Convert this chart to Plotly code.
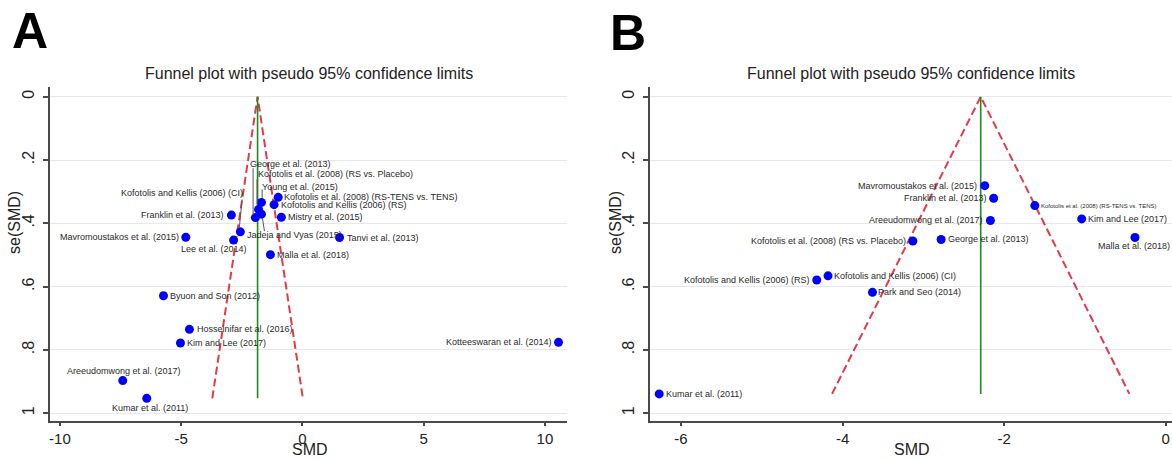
import plotly.graph_objects as go

# ---------------- data ----------------
A_names = [
    "Franklin et al. (2013)", "Mavromoustakos et al. (2015)",
    "Kofotolis and Kellis (2006) (CI)", "Lee et al. (2014)",
    "George et al. (2013)", "Kofotolis et al. (2008) (RS vs. Placebo)",
    "Jadeja and Vyas (2015)", "Young et al. (2015)",
    "Kofotolis et al. (2008) (RS-TENS vs. TENS)", "Kofotolis and Kellis (2006) (RS)",
    "Mistry et al. (2015)", "Tanvi et al. (2013)", "Malla et al. (2018)",
    "Byuon and Son (2012)", "Hosseinifar et al. (2016)", "Kim and Lee (2017)",
    "Areeudomwong et al. (2017)", "Kumar et al. (2011)", "Kotteeswaran et al. (2014)",
]
A_smd = [-2.93, -4.81, -2.56, -2.84, -1.94, -1.81, -1.69, -1.69, -1.00, -1.17,
         -0.87, 1.53, -1.32, -5.73, -4.66, -5.03, -7.41, -6.42, 10.56]
A_se = [0.374, 0.444, 0.427, 0.453, 0.382, 0.356, 0.371, 0.334, 0.318, 0.341,
        0.381, 0.445, 0.499, 0.629, 0.735, 0.778, 0.897, 0.953, 0.776]
A_pooled = -1.85

B_names = [
    "Mavromoustakos et al. (2015)", "Franklin et al. (2013)",
    "Kofotolis et al. (2008) (RS-TENS vs. TENS)", "Areeudomwong et al. (2017)",
    "Kim and Lee (2017)", "Kofotolis et al. (2008) (RS vs. Placebo)",
    "George et al. (2013)", "Malla et al. (2018)",
    "Kofotolis and Kellis (2006) (RS)", "Kofotolis and Kellis (2006) (CI)",
    "Park and Seo (2014)", "Kumar et al. (2011)",
]
B_smd = [-2.24, -2.13, -1.62, -2.17, -1.04, -3.13, -2.78, -0.38, -4.32, -4.18, -3.63, -6.27]
B_se = [0.281, 0.321, 0.344, 0.391, 0.386, 0.456, 0.451, 0.445, 0.579, 0.566, 0.618, 0.939]
B_pooled = -2.29

Y_TICKS = [0, 0.2, 0.4, 0.6, 0.8, 1]
Y_TICKTEXT = ["0", ".2", ".4", ".6", ".8", "1"]
A_XTICKS = [-10, -5, 0, 5, 10]
B_XTICKS = [-6, -4, -2, 0]
TITLE = "Funnel plot with pseudo 95% confidence limits"
X_TITLE = "SMD"
Y_TITLE = "se(SMD)"
Z95 = 1.96

# ---------------- label layout (anchor, dx px, dy px up) ----------------
A_place = {
    "Franklin et al. (2013)": ("right", -5, 0),
    "Mavromoustakos et al. (2015)": ("right", -5, 0),
    "Kofotolis and Kellis (2006) (CI)": ("right", 5, 38.5),
    "Lee et al. (2014)": ("right", 15, -9),
    "George et al. (2013)": ("left", -7, 54),
    "Kofotolis et al. (2008) (RS vs. Placebo)": ("left", -3, 35),
    "Jadeja and Vyas (2015)": ("left", -16, -21),
    "Young et al. (2015)": ("left", -1, 15.6),
    "Kofotolis et al. (2008) (RS-TENS vs. TENS)": ("left", 4, 0),
    "Kofotolis and Kellis (2006) (RS)": ("left", 5, 0),
    "Mistry et al. (2015)": ("left", 5, 0),
    "Tanvi et al. (2013)": ("left", 5, 0),
    "Malla et al. (2018)": ("left", 5, 0),
    "Byuon and Son (2012)": ("left", 5, 0),
    "Hosseinifar et al. (2016)": ("left", 6, 0),
    "Kim and Lee (2017)": ("left", 5, 0),
    "Areeudomwong et al. (2017)": ("center", 1, 10),
    "Kumar et al. (2011)": ("center", 3, -9.5),
    "Kotteeswaran et al. (2014)": ("right", -5, 0),
}
# leader lines: (x0, y0, x1, y1) screen px offsets (y down) from the point
A_leaders = {
    "Kofotolis and Kellis (2006) (CI)": (1.7, -32.4, -1, -4.4),
    "George et al. (2013)": (-2.3, -49.4, -2.3, -2.7),
    "Kofotolis et al. (2008) (RS vs. Placebo)": (-1.5, -30, -1.5, -5),
    "Young et al. (2015)": (0.7, -13, 0.7, -4),
    "Jadeja and Vyas (2015)": (1, 4, 3, 17),
}
B_place = {
    "Mavromoustakos et al. (2015)": ("right", -6, 0),
    "Franklin et al. (2013)": ("right", -5, 0),
    "Kofotolis et al. (2008) (RS-TENS vs. TENS)": ("left", 4, 0),
    "Areeudomwong et al. (2017)": ("right", -5, 0),
    "Kim and Lee (2017)": ("left", 4, 0),
    "Kofotolis et al. (2008) (RS vs. Placebo)": ("right", -5, 0),
    "George et al. (2013)": ("left", 5, 0),
    "Malla et al. (2018)": ("center", -1, -8),
    "Kofotolis and Kellis (2006) (RS)": ("right", -5, 0),
    "Kofotolis and Kellis (2006) (CI)": ("left", 4, 0),
    "Park and Seo (2014)": ("left", 4, 0),
    "Kumar et al. (2011)": ("left", 5, 0),
}
B_small = {"Kofotolis et al. (2008) (RS-TENS vs. TENS)"}

FONT = "Liberation Sans, Arial, sans-serif"
W, H = 1172, 459
AXCOL = "#4a4a4a"
GRID = "#e8e8e8"
GREEN = "#1f8a1f"
RED = "#e23a46"
BLUE = "#0000ff"
TXT = "#222222"

fig = go.Figure()

def add_panel(names, smd, se, pooled, xa, ya):
    mx = max(se)
    fig.add_trace(go.Scatter(
        x=[pooled - Z95 * mx, pooled, pooled + Z95 * mx], y=[mx, 0, mx],
        mode="lines", line=dict(color=RED, width=2, dash="8px,4px"),
        xaxis=xa, yaxis=ya, showlegend=False, hoverinfo="skip"))
    fig.add_trace(go.Scatter(
        x=[pooled, pooled], y=[0, mx], mode="lines",
        line=dict(color=GREEN, width=1.6),
        xaxis=xa, yaxis=ya, showlegend=False, hoverinfo="skip"))
    fig.add_trace(go.Scatter(
        x=smd, y=se, mode="markers", text=names,
        marker=dict(color=BLUE, size=9, line=dict(width=0)),
        xaxis=xa, yaxis=ya, showlegend=False))

add_panel(A_names, A_smd, A_se, A_pooled, "x", "y")
add_panel(B_names, B_smd, B_se, B_pooled, "x2", "y2")

annotations = []
shapes = []

def add_labels(names, smd, se, place, xref, yref, small=(), leaders=None):
    for n, xv, yv in zip(names, smd, se):
        anc, dx, dy = place[n]
        annotations.append(dict(
            x=xv, y=yv, xref=xref, yref=yref, text=n, showarrow=False,
            xanchor=anc, yanchor="middle", xshift=dx, yshift=dy,
            font=dict(family=FONT, size=6 if n in small else 9, color="#2a2a2a")))
        if leaders and n in leaders:
            x0, y0, x1, y1 = leaders[n]
            shapes.append(dict(
                type="line", xref=xref, yref=yref,
                xsizemode="pixel", ysizemode="pixel",
                xanchor=xv, yanchor=yv,
                x0=x0, x1=x1, y0=-y0, y1=-y1,
                line=dict(color="#555555", width=1)))

add_labels(A_names, A_smd, A_se, A_place, "x", "y", leaders=A_leaders)
add_labels(B_names, B_smd, B_se, B_place, "x2", "y2", small=B_small)

xdomA = [50 / W, 567 / W]
xdomB = [650 / W, 1.0]
ydom = [(H - 421) / H, (H - 86.7) / H]

for dom, ytitle_x in ((xdomA, 14), (xdomB, 615)):
    cx = (dom[0] + dom[1]) / 2
    annotations.append(dict(
        x=cx, y=(H - 73) / H, xref="paper", yref="paper",
        text=TITLE, showarrow=False, xanchor="center", yanchor="middle",
        font=dict(family=FONT, size=16, color=TXT)))
    annotations.append(dict(
        x=cx + 1 / W, y=0, xref="paper", yref="paper",
        text=X_TITLE, showarrow=False, xanchor="center", yanchor="bottom",
        yshift=-1, font=dict(family=FONT, size=16, color=TXT)))
    annotations.append(dict(
        x=ytitle_x / W, y=(H - 223) / H, xref="paper", yref="paper",
        text=Y_TITLE, showarrow=False, xanchor="center", yanchor="middle",
        textangle=-90, font=dict(family=FONT, size=16, color=TXT)))

annotations.append(dict(x=10 / W, y=(H - 31) / H, xref="paper", yref="paper",
                        text="<b>A</b>", showarrow=False, xanchor="left", yanchor="middle",
                        font=dict(family=FONT, size=50, color="#000000")))
annotations.append(dict(x=608 / W, y=(H - 33) / H, xref="paper", yref="paper",
                        text="<b>B</b>", showarrow=False, xanchor="left", yanchor="middle",
                        font=dict(family=FONT, size=50, color="#000000")))

def xaxis_cfg(dom, rng, ticks):
    return dict(domain=dom, range=rng, tickvals=ticks, ticktext=[str(t) for t in ticks],
                showline=True, linecolor=AXCOL, linewidth=2, ticks="outside",
                ticklen=3, tickwidth=1.5, tickcolor=AXCOL, showgrid=False, zeroline=False,
                tickfont=dict(family=FONT, size=15, color=TXT),
                automargin=False, fixedrange=True)

def yaxis_cfg(anchor):
    return dict(domain=ydom, range=[1.0246, -0.0316], tickvals=Y_TICKS, ticktext=Y_TICKTEXT,
                tickangle=-90, showline=True, linecolor=AXCOL, linewidth=2, ticks="outside",
                ticklen=5, tickwidth=1.5, tickcolor=AXCOL, showgrid=True, gridcolor=GRID,
                gridwidth=1, zeroline=False, anchor=anchor,
                tickfont=dict(family=FONT, size=16, color=TXT),
                ticklabelstandoff=3,
                automargin=False, fixedrange=True)

fig.update_layout(
    width=W, height=H, autosize=False, template="none",
    margin=dict(l=0, r=0, t=0, b=0, pad=0),
    paper_bgcolor="white", plot_bgcolor="white",
    xaxis=xaxis_cfg(xdomA, [-10.41, 10.91], A_XTICKS) | dict(anchor="y"),
    yaxis=yaxis_cfg("x"),
    xaxis2=xaxis_cfg(xdomB, [-6.384, 0.078], B_XTICKS) | dict(anchor="y2"),
    yaxis2=yaxis_cfg("x2"),
    annotations=annotations, shapes=shapes,
    showlegend=False,
)

fig.write_html("out.html")
